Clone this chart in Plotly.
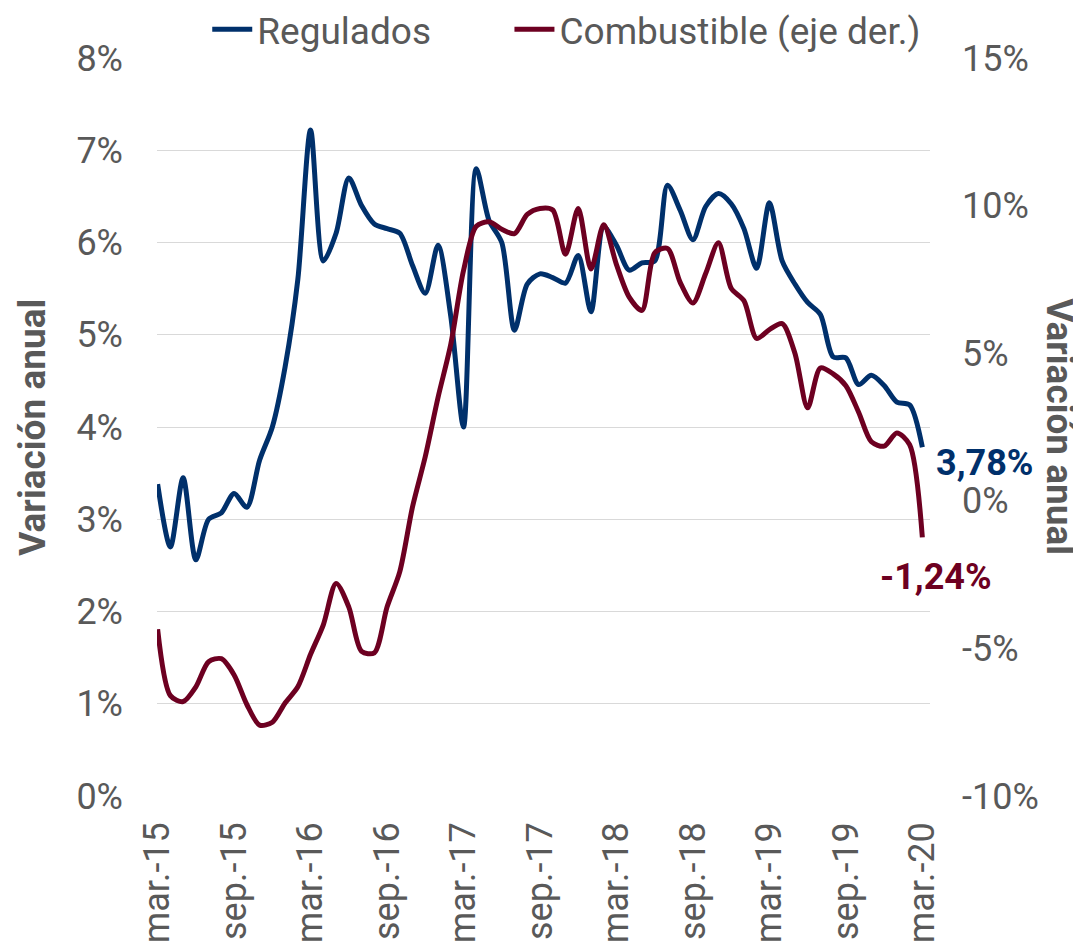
import plotly.graph_objects as go

months_es = ["ene.", "feb.", "mar.", "abr.", "may.", "jun.", "jul.", "ago.", "sep.", "oct.", "nov.", "dic."]
categories = []
for k in range(61):
    m = (2 + k) % 12
    y = 15 + (2 + k) // 12
    categories.append(f"{months_es[m]}-{y}")

regulados = [3.38, 2.70, 3.45, 2.56, 3.00, 3.07, 3.28, 3.13, 3.64, 4.00,
             4.65, 5.60, 7.22, 5.80, 6.10, 6.70, 6.40, 6.20, 6.15, 6.10,
             5.75, 5.45, 5.97, 5.20, 4.00, 6.80, 6.24, 6.00, 5.05, 5.55,
             5.66, 5.62, 5.56, 5.86, 5.25, 6.17, 5.97, 5.70, 5.78, 5.80,
             6.62, 6.35, 6.03, 6.39, 6.53, 6.42, 6.15, 5.72, 6.43, 5.80,
             5.55, 5.35, 5.22, 4.76, 4.75, 4.46, 4.56, 4.45, 4.27, 4.24,
             3.78]

combustible = [-4.35, -6.60, -6.80, -6.30, -5.45, -5.35, -5.90, -6.90, -7.60, -7.50,
               -6.85, -6.30, -5.20, -4.20, -2.80, -3.60, -5.10, -5.15, -3.60, -2.40,
               -0.20, 1.50, 3.50, 5.30, 7.80, 9.30, 9.45, 9.20, 9.05, 9.70,
               9.90, 9.85, 8.35, 9.90, 7.85, 9.35, 8.00, 6.90, 6.45, 8.40,
               8.55, 7.40, 6.70, 7.70, 8.74, 7.20, 6.78, 5.50, 5.80, 6.00,
               5.00, 3.15, 4.50, 4.30, 3.90, 3.00, 2.00, 1.85, 2.30, 1.90,
               -1.24]

tick_labels = categories[::6]
left_ticks = [0, 1, 2, 3, 4, 5, 6, 7, 8]
left_text = [f"{v}%" for v in left_ticks]
right_ticks = [-10, -5, 0, 5, 10, 15]
right_text = [f"{v}%" for v in right_ticks]

BLUE = "#00306B"
RED = "#6D0021"
GRAY = "#595959"
FONT = "Roboto"
FS = 36
NB = "\u00a0"

fig = go.Figure()
fig.add_trace(go.Scatter(x=categories, y=regulados, name="Regulados" + NB * 8, mode="lines",
                         line=dict(color=BLUE, width=5, shape="spline", smoothing=0.8)))
fig.add_trace(go.Scatter(x=categories, y=combustible, name="Combustible (eje der.)", mode="lines",
                         yaxis="y2",
                         line=dict(color=RED, width=5, shape="spline", smoothing=0.8)))

fig.add_annotation(x=categories[-1], y=regulados[-1], text="<b>3,78%</b>", showarrow=False,
                   xanchor="left", yanchor="middle", xshift=12, yshift=-16,
                   font=dict(family=FONT, size=FS, color=BLUE))
fig.add_annotation(x=categories[-1], y=combustible[-1], yref="y2", text="<b>-1,24%</b>",
                   showarrow=False, xanchor="center", yanchor="middle", xshift=14, yshift=-40,
                   font=dict(family=FONT, size=FS, color=RED))
fig.add_annotation(xref="paper", yref="paper", x=-0.162, y=0.5, text="<b>Variación anual</b>",
                   textangle=-90, showarrow=False, xanchor="center", yanchor="middle",
                   font=dict(family=FONT, size=37, color=GRAY))
fig.add_annotation(xref="paper", yref="paper", x=1.168, y=0.5, text="<b>Variación anual</b>",
                   textangle=90, showarrow=False, xanchor="center", yanchor="middle",
                   font=dict(family=FONT, size=37, color=GRAY))

fig.update_layout(
    width=1081, height=946,
    margin=dict(l=149, r=159, t=50, b=158, autoexpand=False),
    plot_bgcolor="white", paper_bgcolor="white",
    font=dict(family=FONT, color=GRAY, size=FS),
    showlegend=True,
    legend=dict(orientation="h", x=0.065, y=0.977, xanchor="left", yanchor="middle",
                yref="container",
                font=dict(family=FONT, size=37, color=GRAY), itemwidth=40,
                bgcolor="rgba(0,0,0,0)"),
    xaxis=dict(type="category", tickmode="array", tickvals=tick_labels, ticktext=tick_labels,
               tickangle=-90, range=[-0.05, 60.6], showgrid=False, zeroline=False,
               showline=False, ticks="", automargin=False, ticklabelstandoff=18,
               tickfont=dict(family=FONT, size=FS, color=GRAY)),
    yaxis=dict(range=[0, 8], tickmode="array", tickvals=left_ticks, ticktext=left_text,
               showgrid=True, gridcolor="#D9D9D9", gridwidth=1, zeroline=False, showline=False,
               automargin=False, ticklabelstandoff=33,
               tickfont=dict(family=FONT, size=FS, color=GRAY)),
    yaxis2=dict(range=[-10, 15], tickmode="array", tickvals=right_ticks, ticktext=right_text,
                overlaying="y", side="right", showgrid=False, zeroline=False, showline=False,
                automargin=False, ticklabelstandoff=31,
                tickfont=dict(family=FONT, size=FS, color=GRAY)),
)

fig.write_html("out.html")
